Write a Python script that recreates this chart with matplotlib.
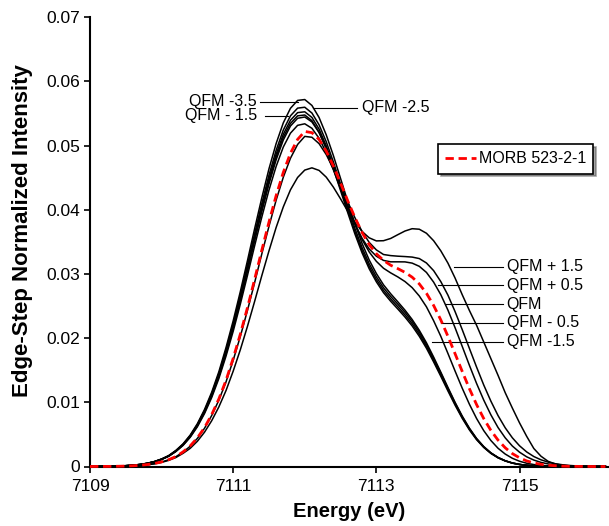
import matplotlib.pyplot as plt
import numpy as np
from matplotlib.lines import Line2D

# energy grid (eV), 0.1 eV steps
energy = np.round(np.arange(7109.0, 7116.25, 0.1), 1)

# spectra
qfm_m35 = [0.00001, 0.00001, 0.00003, 0.00005, 0.00007, 0.00013, 0.00021, 0.00032, 0.00051, 0.00078,
           0.00117, 0.00171, 0.00251, 0.00353, 0.00490, 0.00667, 0.00889, 0.01157, 0.01476, 0.01853,
           0.02269, 0.02725, 0.03209, 0.03705, 0.04185, 0.04636, 0.05030, 0.05352, 0.05579, 0.05702,
           0.05716, 0.05624, 0.05436, 0.05166, 0.04843, 0.04487, 0.04130, 0.03785, 0.03477, 0.03217,
           0.03006, 0.02830, 0.02691, 0.02565, 0.02435, 0.02290, 0.02121, 0.01927, 0.01705, 0.01471,
           0.01232, 0.00999, 0.00785, 0.00597, 0.00437, 0.00311, 0.00213, 0.00141, 0.00090, 0.00055,
           0.00033, 0.00019, 0.00010, 0.00006, 0.00003, 0.00001, 0.00001, 0, 0, 0,
           0, 0, 0]
qfm_m25 = [0.00001, 0.00001, 0.00003, 0.00004, 0.00007, 0.00012, 0.00020, 0.00032, 0.00050, 0.00076,
           0.00115, 0.00167, 0.00246, 0.00346, 0.00480, 0.00653, 0.00870, 0.01133, 0.01445, 0.01814,
           0.02221, 0.02667, 0.03142, 0.03627, 0.04096, 0.04538, 0.04924, 0.05240, 0.05462, 0.05582,
           0.05596, 0.05506, 0.05322, 0.05059, 0.04743, 0.04396, 0.04047, 0.03711, 0.03411, 0.03159,
           0.02955, 0.02784, 0.02649, 0.02528, 0.02401, 0.02260, 0.02094, 0.01903, 0.01684, 0.01454,
           0.01217, 0.00988, 0.00776, 0.00590, 0.00432, 0.00307, 0.00211, 0.00140, 0.00089, 0.00054,
           0.00032, 0.00019, 0.00010, 0.00006, 0.00003, 0.00001, 0.00001, 0, 0, 0,
           0, 0, 0]
qfm_x = [0.00001, 0.00001, 0.00002, 0.00004, 0.00007, 0.00012, 0.00020, 0.00031, 0.00049, 0.00075,
         0.00114, 0.00165, 0.00242, 0.00342, 0.00474, 0.00645, 0.00860, 0.01119, 0.01427, 0.01791,
         0.02193, 0.02634, 0.03102, 0.03582, 0.04045, 0.04481, 0.04863, 0.05174, 0.05393, 0.05512,
         0.05525, 0.05437, 0.05255, 0.04995, 0.04683, 0.04339, 0.03995, 0.03662, 0.03365, 0.03115,
         0.02913, 0.02743, 0.02610, 0.02489, 0.02363, 0.02224, 0.02060, 0.01872, 0.01656, 0.01430,
         0.01197, 0.00971, 0.00763, 0.00580, 0.00425, 0.00302, 0.00207, 0.00137, 0.00088, 0.00053,
         0.00032, 0.00018, 0.00010, 0.00005, 0.00003, 0.00001, 0.00001, 0, 0, 0,
         0, 0, 0]
qfm_m15 = [0.00001, 0.00001, 0.00002, 0.00004, 0.00007, 0.00012, 0.00020, 0.00031, 0.00049, 0.00075,
           0.00112, 0.00164, 0.00240, 0.00339, 0.00470, 0.00639, 0.00852, 0.01108, 0.01414, 0.01775,
           0.02173, 0.02610, 0.03074, 0.03549, 0.04008, 0.04440, 0.04819, 0.05127, 0.05344, 0.05462,
           0.05475, 0.05387, 0.05207, 0.04948, 0.04639, 0.04298, 0.03955, 0.03624, 0.03329, 0.03080,
           0.02877, 0.02708, 0.02574, 0.02453, 0.02328, 0.02190, 0.02028, 0.01842, 0.01629, 0.01406,
           0.01177, 0.00955, 0.00750, 0.00570, 0.00418, 0.00297, 0.00204, 0.00135, 0.00086, 0.00053,
           0.00031, 0.00018, 0.00010, 0.00005, 0.00003, 0.00001, 0.00001, 0, 0, 0,
           0, 0, 0]
qfm_m05 = [0.00001, 0.00001, 0.00002, 0.00004, 0.00007, 0.00012, 0.00019, 0.00031, 0.00048, 0.00074,
           0.00111, 0.00162, 0.00238, 0.00335, 0.00465, 0.00633, 0.00844, 0.01098, 0.01401, 0.01758,
           0.02153, 0.02586, 0.03046, 0.03517, 0.03972, 0.04401, 0.04777, 0.05085, 0.05303, 0.05424,
           0.05444, 0.05367, 0.05202, 0.04964, 0.04680, 0.04372, 0.04069, 0.03782, 0.03537, 0.03342,
           0.03196, 0.03088, 0.03016, 0.02953, 0.02881, 0.02786, 0.02656, 0.02487, 0.02271, 0.02029,
           0.01761, 0.01486, 0.01219, 0.00970, 0.00748, 0.00559, 0.00405, 0.00284, 0.00194, 0.00128,
           0.00082, 0.00051, 0.00030, 0.00018, 0.00010, 0.00005, 0.00003, 0.00001, 0.00001, 0,
           0, 0, 0]
qfm_0 = [0.00001, 0.00001, 0.00002, 0.00004, 0.00007, 0.00012, 0.00019, 0.00030, 0.00047, 0.00072,
         0.00109, 0.00159, 0.00233, 0.00328, 0.00455, 0.00619, 0.00825, 0.01074, 0.01370, 0.01719,
         0.02105, 0.02529, 0.02978, 0.03439, 0.03885, 0.04305, 0.04674, 0.04976, 0.05192, 0.05314,
         0.05338, 0.05268, 0.05113, 0.04889, 0.04620, 0.04328, 0.04043, 0.03779, 0.03556, 0.03388,
         0.03276, 0.03210, 0.03188, 0.03188, 0.03187, 0.03168, 0.03118, 0.03023, 0.02872, 0.02677,
         0.02436, 0.02161, 0.01870, 0.01576, 0.01294, 0.01035, 0.00805, 0.00607, 0.00447, 0.00319,
         0.00223, 0.00151, 0.00100, 0.00064, 0.00040, 0.00024, 0.00014, 0.00008, 0.00004, 0.00002,
         0.00001, 0.00001, 0]
qfm_p05 = [0, 0.00001, 0.00001, 0.00002, 0.00004, 0.00007, 0.00011, 0.00018, 0.00029, 0.00045,
           0.00070, 0.00105, 0.00153, 0.00224, 0.00316, 0.00438, 0.00596, 0.00794, 0.01033, 0.01318,
           0.01654, 0.02026, 0.02433, 0.02866, 0.03311, 0.03741, 0.04148, 0.04505, 0.04801, 0.05016,
           0.05142, 0.05128, 0.05029, 0.04859, 0.04636, 0.04383, 0.04123, 0.03877, 0.03662, 0.03491,
           0.03374, 0.03302, 0.03285, 0.03276, 0.03270, 0.03262, 0.03239, 0.03170, 0.03051, 0.02881,
           0.02669, 0.02412, 0.02131, 0.01839, 0.01549, 0.01270, 0.01018, 0.00793, 0.00603, 0.00447,
           0.00323, 0.00227, 0.00155, 0.00104, 0.00068, 0.00043, 0.00027, 0.00016, 0.00009, 0.00005,
           0.00003, 0.00002, 0.00001]
qfm_p15 = [0, 0.00001, 0.00001, 0.00002, 0.00004, 0.00006, 0.00010, 0.00017, 0.00027, 0.00041,
           0.00064, 0.00096, 0.00140, 0.00205, 0.00283, 0.00393, 0.00535, 0.00713, 0.00928, 0.01183,
           0.01485, 0.01819, 0.02185, 0.02573, 0.02973, 0.03358, 0.03723, 0.04043, 0.04309, 0.04502,
           0.04617, 0.04652, 0.04612, 0.04507, 0.04351, 0.04169, 0.03977, 0.03805, 0.03662, 0.03562,
           0.03514, 0.03517, 0.03552, 0.03611, 0.03668, 0.03704, 0.03696, 0.03633, 0.03517, 0.03360,
           0.03168, 0.02935, 0.02675, 0.02430, 0.02200, 0.01940, 0.01680, 0.01420, 0.01150, 0.00910,
           0.00680, 0.00470, 0.00280, 0.00160, 0.00080, 0.00040, 0.00020, 0.00010, 0.00005, 0.00002,
           0, 0, 0]
morb = [0, 0.00001, 0.00001, 0.00002, 0.00004, 0.00007, 0.00011, 0.00019, 0.00030, 0.00046,
        0.00071, 0.00107, 0.00155, 0.00228, 0.00321, 0.00446, 0.00606, 0.00808, 0.01052, 0.01342,
        0.01684, 0.02062, 0.02476, 0.02916, 0.03369, 0.03806, 0.04218, 0.04580, 0.04879, 0.05095,
        0.05219, 0.05200, 0.05094, 0.04914, 0.04680, 0.04414, 0.04140, 0.03880, 0.03646, 0.03457,
        0.03314, 0.03210, 0.03135, 0.03082, 0.03024, 0.02949, 0.02844, 0.02698, 0.02509, 0.02284,
        0.02028, 0.01756, 0.01480, 0.01212, 0.00965, 0.00747, 0.00562, 0.00411, 0.00292, 0.00201,
        0.00135, 0.00087, 0.00055, 0.00034, 0.00020, 0.00012, 0.00006, 0.00003, 0.00002, 0.00001,
        0, 0, 0]

black_curves = [qfm_m35, qfm_m25, qfm_x, qfm_m15, qfm_m05, qfm_0, qfm_p05, qfm_p15]

x_ticks = [7109, 7111, 7113, 7115]
y_ticks = [0, 0.01, 0.02, 0.03, 0.04, 0.05, 0.06, 0.07]
y_tick_labels = ['0', '0.01', '0.02', '0.03', '0.04', '0.05', '0.06', '0.07']

right_labels = ['QFM + 1.5', 'QFM + 0.5', 'QFM', 'QFM - 0.5', 'QFM -1.5']

plt.rcParams['font.family'] = ['Liberation Sans', 'DejaVu Sans']

fig = plt.figure(figsize=(6.09, 5.26), dpi=100)
ax = fig.add_axes([90 / 609, 1 - 466.5 / 526, 519 / 609, 449.4 / 526])

for y in black_curves:
    ax.plot(energy, y, color='black', lw=1.1, zorder=3)
ax.plot(energy, morb, color='#ff0000', lw=2.0, dashes=(3, 1.7), clip_on=False, zorder=6)

# pointer lines + labels, top
ax.plot([7111.38, 7111.91], [0.05678, 0.05678], color='black', lw=0.8)
ax.text(7111.33, 0.05678, 'QFM -3.5', ha='right', va='center', fontsize=11.5)
ax.plot([7111.45, 7111.77], [0.0546, 0.0546], color='black', lw=0.8)
ax.text(7111.33, 0.0546, 'QFM - 1.5', ha='right', va='center', fontsize=11.5)
ax.plot([7112.12, 7112.73], [0.0558, 0.0558], color='black', lw=0.8)
ax.text(7112.80, 0.0559, 'QFM -2.5', ha='left', va='center', fontsize=11.5)

# pointer lines + labels, right
label_y = [0.0311, 0.02822, 0.02531, 0.0224, 0.01944]
line_x0 = [7114.09, 7113.86, 7113.98, 7113.91, 7113.78]
for txt, yy, x0 in zip(right_labels, label_y, line_x0):
    ax.plot([x0, 7114.77], [yy, yy], color='black', lw=0.8)
    ax.text(7114.82, yy, txt, ha='left', va='center', fontsize=11.5)

handle = Line2D([], [], color='#ff0000', lw=2.0, dashes=(3, 1.7))
leg = ax.legend([handle], ['MORB 523-2-1'], loc='upper left', bbox_to_anchor=(0.6705, 0.717),
                borderaxespad=0, fontsize=11.5, frameon=True, fancybox=False, shadow=True,
                handlelength=1.9, handletextpad=0.2, borderpad=0.45)
leg.get_frame().set_edgecolor('black')
leg.get_frame().set_linewidth(1.2)

ax.set_xlim(7109, 7116.25)
ax.set_ylim(0, 0.07)
ax.set_xticks(x_ticks)
ax.set_yticks(y_ticks)
ax.set_yticklabels(y_tick_labels)
ax.tick_params(axis='both', direction='out', length=4, width=1.2, labelsize=12.5, pad=3)
ax.tick_params(axis='x', pad=5)
for s in ['top', 'right']:
    ax.spines[s].set_visible(False)
for s in ['left', 'bottom']:
    ax.spines[s].set_linewidth(1.5)

ax.set_xlabel('Energy (eV)', fontsize=14.5, fontweight='bold', labelpad=6)
ax.set_ylabel('Edge-Step Normalized Intensity', fontsize=16, fontweight='bold')
ax.yaxis.set_label_coords(-0.11, 0.526)

fig.savefig('out.png', dpi=100)
